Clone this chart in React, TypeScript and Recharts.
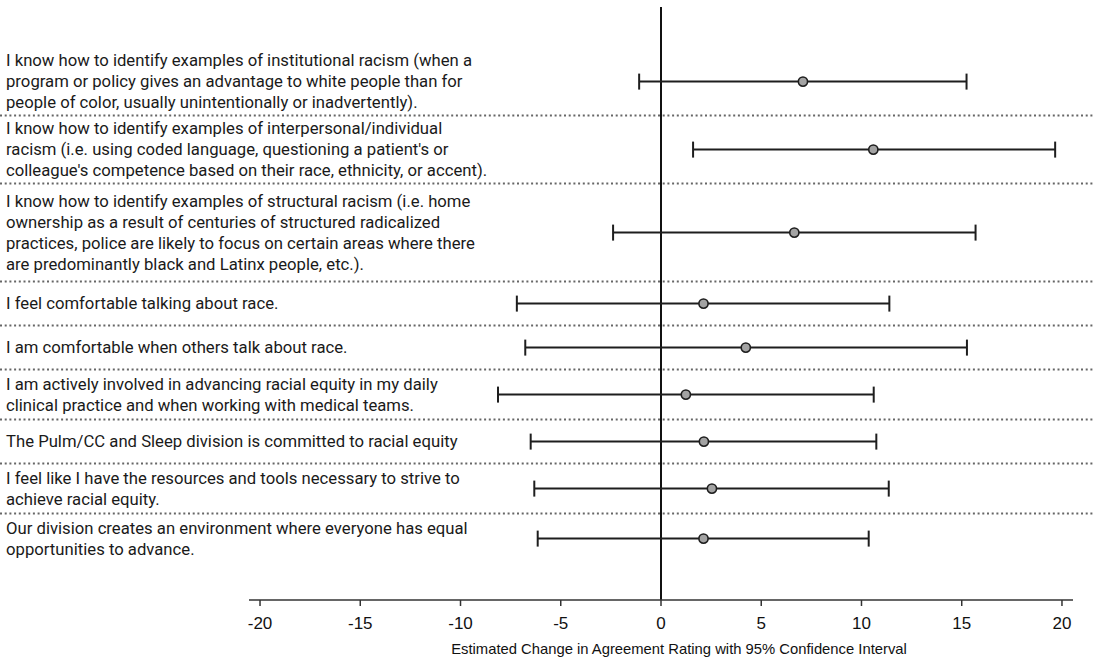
import React from "react";
import {
  ScatterChart,
  Scatter,
  XAxis,
  YAxis,
  ErrorBar,
  ReferenceLine,
} from "recharts";

// ---- data ----
const statements: string[] = [
  "I know how to identify examples of institutional racism (when a\nprogram or policy gives an advantage to white people than for\npeople of color, usually unintentionally or inadvertently).",
  "I know how to identify examples of interpersonal/individual\nracism (i.e. using coded language, questioning a patient's or\ncolleague's competence based on their race, ethnicity, or accent).",
  "I know how to identify examples of structural racism (i.e. home\nownership as a result of centuries of structured radicalized\npractices, police are likely to focus on certain areas where there\nare predominantly black and Latinx people, etc.).",
  "I feel comfortable talking about race.",
  "I am comfortable when others talk about race.",
  "I am actively involved in advancing racial equity in my daily\nclinical practice and when working with medical teams.",
  "The Pulm/CC and Sleep division is committed to racial equity",
  "I feel like I have the resources and tools necessary to strive to\nachieve racial equity.",
  "Our division creates an environment where everyone has equal\nopportunities to advance.",
];
const estimates: number[] = [7.08, 10.59, 6.65, 2.12, 4.23, 1.24, 2.14, 2.54, 2.12];
const lowerCI: number[] = [-1.09, 1.6, -2.39, -7.19, -6.77, -8.13, -6.5, -6.32, -6.15];
const upperCI: number[] = [15.24, 19.66, 15.69, 11.39, 15.26, 10.61, 10.74, 11.36, 10.36];
const xTicks: number[] = [-20, -15, -10, -5, 0, 5, 10, 15, 20];
const axisTitle = "Estimated Change in Agreement Rating with 95% Confidence Interval";

// ---- layout derived from label line counts ----
const lineCounts = statements.map((s) => s.split("\n").length);
const rowHeights = lineCounts.map((n) => 44 + 6 * (n - 1) * (n - 1));
const rowTops: number[] = [];
rowHeights.reduce((acc, h) => {
  rowTops.push(acc);
  return acc + h;
}, 0);
const rowCenters = rowTops.map((t, i) => t + rowHeights[i] / 2);
const separators = rowTops.slice(1);
const totalRows = rowHeights.reduce((a, b) => a + b, 0);

const rows = statements.map((label, i) => ({
  label,
  pos: rowCenters[i],
  est: estimates[i],
  lo: lowerCI[i],
  hi: upperCI[i],
}));

const W = 1094;
const H = 660;

const LabelTick = (props: any) => {
  const { y, payload } = props;
  const idx = rowCenters.findIndex((c) => Math.abs(c - payload.value) < 1e-6);
  if (idx < 0) return null;
  const lines = statements[idx].split("\n");
  const lh = 21;
  const startDy = -((lines.length - 1) / 2) * lh;
  return (
    <text
      x={6}
      y={y}
      textAnchor="start"
      fontFamily="Roboto, 'Liberation Sans', sans-serif"
      fontSize={16.7}
      fill="#1a1a1a"
    >
      {lines.map((ln, k) => (
        <tspan key={k} x={6} dy={k === 0 ? startDy + 5.8 : lh}>
          {ln}
        </tspan>
      ))}
    </text>
  );
};

const SepLine = (props: any) => (
  <line
    x1={0}
    x2={W}
    y1={props.y1}
    y2={props.y2}
    stroke="#666"
    strokeWidth={2}
    strokeDasharray="2 2.7"
  />
);

const Dot = (props: any) => (
  <circle cx={props.cx} cy={props.cy} r={4.6} fill="#a3a3a3" stroke="#1e1e1e" strokeWidth={1.6} />
);

export default function App() {
  return (
    <div style={{ position: "absolute", left: 0, top: 0, width: W, height: H, background: "#fff" }}>
      <ScatterChart width={W} height={H} margin={{ top: 7, right: 21, bottom: 0, left: 0 }}>
        <XAxis
          type="number"
          dataKey="est"
          domain={[-20.55, 20.55]}
          ticks={xTicks}
          allowDataOverflow
          interval={0}
          height={60}
          tickSize={6}
          tickMargin={11}
          axisLine={{ stroke: "#333", strokeWidth: 1.5 }}
          tickLine={{ stroke: "#333", strokeWidth: 1.5 }}
          tick={{ fill: "#111", fontSize: 17, fontFamily: "'Liberation Sans', Arial, sans-serif" }}
          label={{
            value: axisTitle,
            position: "insideBottom",
            offset: 6,
            dx: 18,
            fill: "#111",
            fontSize: 14.8,
            fontFamily: "'Liberation Sans', Arial, sans-serif",
          }}
        />
        <YAxis
          type="number"
          dataKey="pos"
          domain={[-40.6, totalRows + 36.4]}
          reversed
          ticks={rowCenters}
          interval={0}
          width={249}
          axisLine={false}
          tickLine={false}
          tick={<LabelTick />}
        />
        {separators.map((s, i) => (
          <ReferenceLine key={i} y={s} shape={SepLine} ifOverflow="visible" />
        ))}
        <ReferenceLine x={0} stroke="#111" strokeWidth={2} />
        <Scatter data={rows} shape={Dot} isAnimationActive={false}>
          <ErrorBar
            dataKey={(d: any) => [d.est - d.lo, d.hi - d.est]}
            direction="x"
            width={8}
            stroke="#1e1e1e"
            strokeWidth={2}
          />
        </Scatter>
      </ScatterChart>
    </div>
  );
}
